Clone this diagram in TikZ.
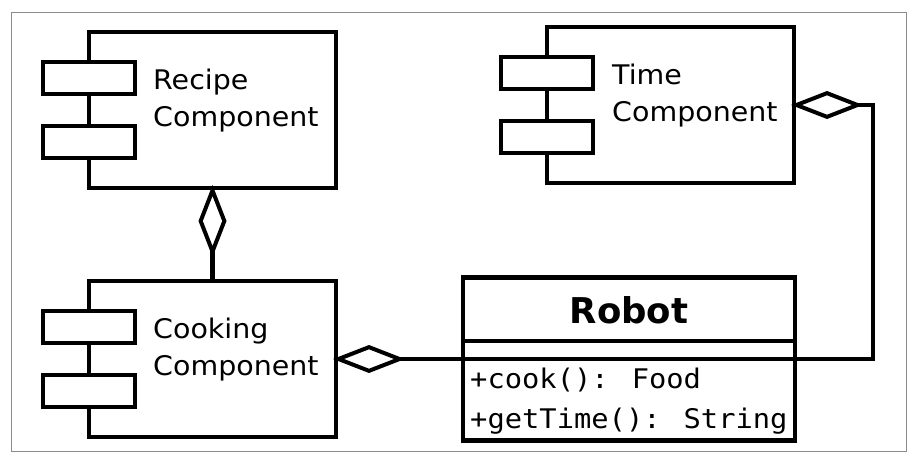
\documentclass[tikz,border=0pt]{standalone}
\usepackage{fontspec}
\setmainfont{DejaVu Sans}[FakeStretch=1.055]
\newfontfamily\monof{DejaVu Sans Mono}[FakeStretch=1.065]
\newfontfamily\robotf{DejaVu Sans}
\usetikzlibrary{arrows.meta}
\tikzset{
  lw/.style={line width=4.6pt},
  comp/.style={draw, lw, minimum width=247pt, minimum height=156pt, inner sep=0pt, outer sep=0pt, anchor=north west},
  port/.style={draw, fill=white, lw, minimum width=92pt, minimum height=32pt, inner sep=0pt},
  lbl/.style={anchor=base west, inner sep=0pt, align=left, font=\fontsize{27}{37}\selectfont},
  meth/.style={anchor=base west, inner sep=0pt, font=\monof\fontsize{27}{40}\selectfont},
  dia/.tip={Diamond[open, length=72pt, width=28pt, line width=4pt]},
  frame/.style={draw=black!45, line width=1pt},
}
\begin{document}
\begin{tikzpicture}[x=1pt, y=-1pt]
\useasboundingbox (0,0) rectangle (918,464);
\draw[frame] (11.5,12) rectangle (906,451);
% components
\node[comp] (recipe) at (89,32) {};
\node[comp] (time) at (547,27) {};
\node[comp] (cook) at (89,281) {};
\foreach \c in {recipe,time,cook}{
  \node[port] (\c p1) at ([yshift=-46pt]\c.north west) {};
  \node[port] (\c p2) at ([yshift=-110pt]\c.north west) {};
}
\node[lbl] (recipet) at (153,126) {Recipe\\Component};
\node[lbl] (timet) at (612,121) {Time\\Component};
\node[lbl] (cookt) at (153,375) {Cooking\\Component};
% robot class
\node[draw, lw, minimum width=332pt, minimum height=163pt, inner sep=0pt, outer sep=0pt, anchor=north west] (robot) at (463,277.5) {};
\coordinate (s1) at (463,341);
\coordinate (s2) at (463,359);
\draw[lw] (s1) -- (s1 -| robot.east);
\draw[lw] (s2) -- (s2 -| robot.east);
\node[anchor=base, inner sep=0pt, font=\robotf\bfseries\fontsize{35.5}{40}\selectfont] (robotn) at (629,323) {Robot};
\node[meth] (m1) at (470,388) {+cook(): Food};
\node[meth] (m2) at (470,428) {+getTime(): String};
% connectors
\coordinate (J) at (873,359);
\draw[lw, dia-dia, shorten <=-3pt, shorten >=-3pt] (time.east) -| (J) -- (cook.east);
\draw[lw, -dia, shorten >=-3pt] (cook.north -| recipe.south) -- (recipe.south);
\end{tikzpicture}
\end{document}
